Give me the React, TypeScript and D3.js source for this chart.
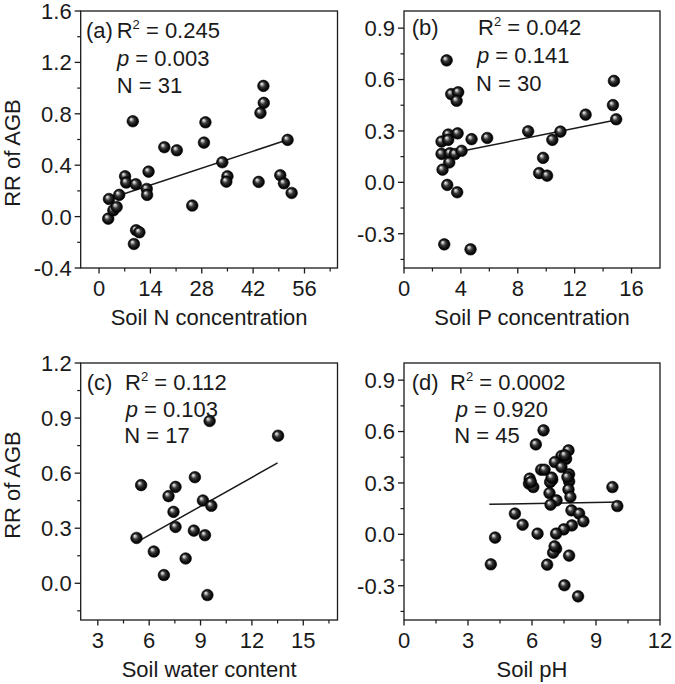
import React from "react";
import * as d3 from "d3";

// ---------- Data ----------
const soilN = [2.5, 2.7, 3.9, 4.8, 5.5, 7.1, 7.4, 9.2, 10.0, 10.1, 11.0, 9.5, 13.0, 13.1, 13.5, 17.8, 21.2, 25.4, 28.6, 29.0, 33.6, 35.0, 34.7, 43.5, 44.0, 44.9, 44.8, 49.4, 50.4, 51.4, 52.5];
const rrN = [-0.016, 0.137, 0.049, 0.075, 0.169, 0.314, 0.265, 0.742, 0.252, -0.106, -0.122, -0.213, 0.215, 0.169, 0.35, 0.54, 0.516, 0.086, 0.576, 0.734, 0.423, 0.314, 0.272, 0.27, 0.807, 0.885, 1.017, 0.322, 0.259, 0.597, 0.184];

const soilP = [3.0, 3.32, 3.81, 3.7, 3.11, 3.77, 2.64, 3.11, 4.75, 5.85, 2.64, 3.23, 3.58, 4.05, 3.18, 2.71, 3.04, 3.74, 2.83, 4.68, 8.73, 11.0, 10.43, 9.78, 9.5, 10.06, 12.77, 14.69, 14.76, 14.92];
const rrP = [0.712, 0.515, 0.526, 0.476, 0.279, 0.286, 0.238, 0.248, 0.252, 0.259, 0.166, 0.17, 0.165, 0.184, 0.116, 0.074, -0.015, -0.058, -0.362, -0.391, 0.298, 0.296, 0.248, 0.143, 0.054, 0.039, 0.395, 0.451, 0.592, 0.368];

const soilWater = [5.26, 5.53, 6.27, 6.86, 7.13, 7.54, 7.42, 7.54, 8.13, 8.61, 8.67, 9.14, 9.26, 9.4, 9.53, 9.63, 13.53];
const rrW = [0.247, 0.535, 0.173, 0.045, 0.475, 0.525, 0.389, 0.307, 0.135, 0.287, 0.578, 0.451, 0.262, -0.064, 0.884, 0.422, 0.804];

const soilPH = [6.54, 6.18, 7.71, 7.38, 7.6, 7.07, 7.38, 6.43, 6.59, 7.74, 5.89, 6.95, 7.74, 5.86, 6.85, 6.06, 7.71, 6.82, 9.77, 7.8, 7.15, 6.87, 10.0, 5.2, 7.85, 8.21, 8.41, 5.56, 7.87, 7.49, 7.13, 6.26, 4.27, 7.13, 6.99, 7.74, 4.07, 6.71, 7.52, 8.16, 7.54, 6.92, 5.95, 7.66, 7.06];
const rrPH = [0.607, 0.525, 0.49, 0.457, 0.441, 0.422, 0.393, 0.377, 0.377, 0.35, 0.325, 0.319, 0.309, 0.296, 0.305, 0.276, 0.262, 0.241, 0.276, 0.218, 0.198, 0.173, 0.165, 0.121, 0.14, 0.121, 0.076, 0.056, 0.052, 0.029, 0.004, 0.004, -0.019, -0.084, -0.107, -0.124, -0.175, -0.177, -0.297, -0.362, 0.461, 0.331, 0.305, 0.334, -0.07];

// regression fits: [slope, intercept], x range
const fitN = [0.00944, 0.113];
const fitNRange = [5, 52];
const fitP = [0.01674, 0.114];
const fitPRange = [2.6, 14.9];
const fitW = [0.0525, -0.053];
const fitWRange = [5.3, 13.5];
const fitPH = [0.00226, 0.166];
const fitPHRange = [4.0, 10.2];

// tick values
const ticksNx = [0, 14, 28, 42, 56];
const ticksNy = [-0.4, 0, 0.4, 0.8, 1.2, 1.6];
const ticksPx = [0, 4, 8, 12, 16];
const ticksPy = [-0.3, 0, 0.3, 0.6, 0.9];
const ticksWx = [3, 6, 9, 12, 15];
const ticksWy = [0, 0.3, 0.6, 0.9, 1.2];
const ticksPHx = [0, 3, 6, 9, 12];
const ticksPHy = [-0.3, 0, 0.3, 0.6, 0.9];

// texts
const panelLetters = ["(a)", "(b)", "(c)", "(d)"];
const r2Texts = ["0.245", "0.042", "0.112", "0.0002"];
const pTexts = ["0.003", "0.141", "0.103", "0.920"];
const nTexts = ["31", "30", "17", "45"];
const xTitles = ["Soil N concentration", "Soil P concentration", "Soil water content", "Soil pH"];
const yTitle = "RR of AGB";

// ---------- Layout ----------
const FONT = "'Liberation Sans', Arial, Helvetica, sans-serif";
const INK = "#1a1a1a";

type PanelCfg = {
  left: number; right: number; top: number; bottom: number;
  xDomain: [number, number]; yDomain: [number, number];
  xs: number[]; ys: number[];
  xTicks: number[]; yTicks: number[]; xStep: number; yStep: number;
  fit: number[]; fitRange: number[];
  letterX: number; statX: [number, number, number]; statY: [number, number, number];
  yTitleY?: number;
};

const panels: PanelCfg[] = [
  {
    left: 80.7, right: 337.5, top: 11, bottom: 268,
    xDomain: [-5, 65], yDomain: [-0.4, 1.6], xs: soilN, ys: rrN,
    xTicks: ticksNx, yTicks: ticksNy, xStep: 7, yStep: 0.2,
    fit: fitN, fitRange: fitNRange,
    letterX: 86, statX: [116.7, 117, 116.7], statY: [37.7, 65.7, 92.7], yTitleY: 153,
  },
  {
    left: 404, right: 660, top: 11, bottom: 268,
    xDomain: [0, 18], yDomain: [-0.5, 1.0], xs: soilP, ys: rrP,
    xTicks: ticksPx, yTicks: ticksPy, xStep: 2, yStep: 0.15,
    fit: fitP, fitRange: fitPRange,
    letterX: 411.7, statX: [478, 477, 476], statY: [35, 63.3, 90.7],
  },
  {
    left: 80.7, right: 337.5, top: 363, bottom: 620,
    xDomain: [2, 17], yDomain: [-0.2, 1.2], xs: soilWater, ys: rrW,
    xTicks: ticksWx, yTicks: ticksWy, xStep: 1.5, yStep: 0.15,
    fit: fitW, fitRange: fitWRange,
    letterX: 86.7, statX: [125, 125.7, 124.3], statY: [390, 417.3, 443.3], yTitleY: 485,
  },
  {
    left: 404, right: 660, top: 363, bottom: 620,
    xDomain: [0, 12], yDomain: [-0.5, 1.0], xs: soilPH, ys: rrPH,
    xTicks: ticksPHx, yTicks: ticksPHy, xStep: 1.5, yStep: 0.15,
    fit: fitPH, fitRange: fitPHRange,
    letterX: 411.7, statX: [450, 455.7, 454.3], statY: [390, 417.3, 443.3],
  },
];

function minorTicks(domain: [number, number], step: number, majors: number[]) {
  const out: number[] = [];
  const start = Math.ceil(domain[0] / step - 1e-9);
  const end = Math.floor(domain[1] / step + 1e-9);
  for (let i = start; i <= end; i++) {
    const v = +(i * step).toFixed(6);
    if (majors.some((m) => Math.abs(m - v) < 1e-6)) continue;
    if (Math.abs(v - domain[0]) < 1e-6 || Math.abs(v - domain[1]) < 1e-6) continue;
    out.push(v);
  }
  return out;
}

function Panel({ cfg, idx }: { cfg: PanelCfg; idx: number }) {
  const x = d3.scaleLinear().domain(cfg.xDomain).range([cfg.left, cfg.right]);
  const y = d3.scaleLinear().domain(cfg.yDomain).range([cfg.bottom, cfg.top]);
  const xMinor = minorTicks(cfg.xDomain, cfg.xStep, cfg.xTicks);
  const yMinor = minorTicks(cfg.yDomain, cfg.yStep, cfg.yTicks);
  const line = d3.line<number>().x((d) => x(d)).y((d) => y(cfg.fit[0] * d + cfg.fit[1]));
  const cx = (cfg.left + cfg.right) / 2;
  const fs = 22;
  return (
    <g>
      {/* frame */}
      <rect x={cfg.left} y={cfg.top} width={cfg.right - cfg.left} height={cfg.bottom - cfg.top}
        fill="none" stroke={INK} strokeWidth={1.3} />
      {/* y ticks */}
      {cfg.yTicks.map((t) => (
        <g key={"yt" + t}>
          <line x1={cfg.left - 6} x2={cfg.left} y1={y(t)} y2={y(t)} stroke={INK} strokeWidth={1.3} />
          <text x={cfg.left - 9} y={y(t)} dy="0.36em" textAnchor="end" fontSize={fs} fontFamily={FONT} fill={INK}>
            {t.toFixed(1)}
          </text>
        </g>
      ))}
      {yMinor.map((t) => (
        <line key={"ym" + t} x1={cfg.left - 3.5} x2={cfg.left} y1={y(t)} y2={y(t)} stroke={INK} strokeWidth={1.2} />
      ))}
      {/* x ticks */}
      {cfg.xTicks.map((t) => (
        <g key={"xt" + t}>
          <line x1={x(t)} x2={x(t)} y1={cfg.bottom} y2={cfg.bottom + 5.5} stroke={INK} strokeWidth={1.3} />
          <text x={x(t)} y={cfg.bottom + 27.5} textAnchor="middle" fontSize={fs} fontFamily={FONT} fill={INK}>
            {String(t)}
          </text>
        </g>
      ))}
      {xMinor.map((t) => (
        <line key={"xm" + t} x1={x(t)} x2={x(t)} y1={cfg.bottom} y2={cfg.bottom + 3.5} stroke={INK} strokeWidth={1.2} />
      ))}
      {/* axis titles */}
      <text x={cx} y={cfg.bottom + 57} textAnchor="middle" fontSize={fs} fontFamily={FONT} fill={INK}>
        {xTitles[idx]}
      </text>
      {cfg.yTitleY !== undefined && (
        <text transform={`translate(20,${cfg.yTitleY}) rotate(-90)`} textAnchor="middle" fontSize={fs}
          fontFamily={FONT} fill={INK}>
          {yTitle}
        </text>
      )}
      {/* regression line */}
      <path d={line(cfg.fitRange) || ""} fill="none" stroke={INK} strokeWidth={1.5} />
      {/* points */}
      {cfg.xs.map((xv, i) => (
        <circle key={"p" + i} cx={x(xv)} cy={y(cfg.ys[i])} r={5.8} fill="url(#sphere)" stroke="#000" strokeWidth={0.6} />
      ))}
      {/* annotations */}
      <text x={cfg.letterX} y={cfg.statY[0]} fontSize={fs} fontFamily={FONT} fill={INK}>
        {panelLetters[idx]}
      </text>
      <text x={cfg.statX[0]} y={cfg.statY[0]} fontSize={fs} fontFamily={FONT} fill={INK}>
        <tspan>R</tspan>
        <tspan fontSize={13} dy={-9}>2</tspan>
        <tspan dy={9}>{" = " + r2Texts[idx]}</tspan>
      </text>
      <text x={cfg.statX[1]} y={cfg.statY[1]} fontSize={fs} fontFamily={FONT} fill={INK}>
        <tspan fontStyle="italic">p</tspan>
        <tspan>{" = " + pTexts[idx]}</tspan>
      </text>
      <text x={cfg.statX[2]} y={cfg.statY[2]} fontSize={fs} fontFamily={FONT} fill={INK}>
        {"N = " + nTexts[idx]}
      </text>
    </g>
  );
}

export default function App() {
  return (
    <svg width={675} height={684} viewBox="0 0 675 684"
      style={{ position: "absolute", left: 0, top: 0, background: "#fff" }}>
      <defs>
        <radialGradient id="sphere" cx="0.5" cy="0.5" r="0.5" fx="0.33" fy="0.3">
          <stop offset="0" stopColor="#f6f6f6" />
          <stop offset="0.2" stopColor="#b0b0b0" />
          <stop offset="0.45" stopColor="#3a3a3a" />
          <stop offset="0.8" stopColor="#0b0b0b" />
          <stop offset="1" stopColor="#000" />
        </radialGradient>
      </defs>
      <rect x={0} y={0} width={675} height={684} fill="#fff" />
      {panels.map((p, i) => (
        <Panel key={i} cfg={p} idx={i} />
      ))}
    </svg>
  );
}
